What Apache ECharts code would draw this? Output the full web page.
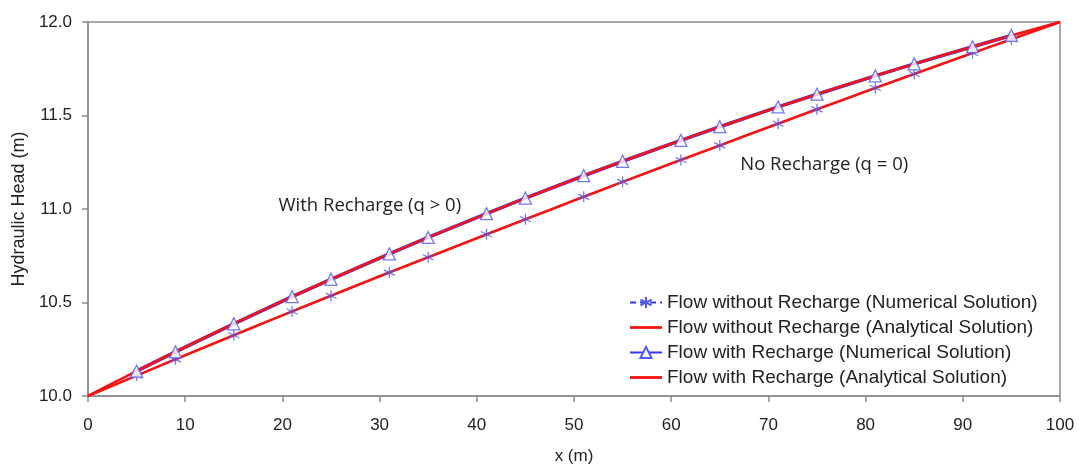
<!DOCTYPE html>
<html>
<head>
<meta charset="utf-8">
<script src="https://cdn.jsdelivr.net/npm/echarts@6/dist/echarts.min.js"></script>
<style>
  html, body { margin: 0; padding: 0; background: #fff; }
  #chart { width: 1079px; height: 464px; }
</style>
</head>
<body>
<div id="chart"></div>
<script>
// Distance along the aquifer (m) where the numerical nodes are reported
const numX = [5, 9, 15, 21, 25, 31, 35, 41, 45, 51, 55, 61, 65, 71, 75, 81, 85, 91, 95];
// Numerical heads (m), no recharge
const numNoRecharge = [10.109, 10.196, 10.325, 10.452, 10.536, 10.660, 10.742, 10.865, 10.945, 11.065,
                       11.145, 11.262, 11.340, 11.456, 11.533, 11.647, 11.722, 11.834, 11.908];
// Numerical heads (m), with recharge
const numRecharge = [10.133, 10.236, 10.386, 10.531, 10.624, 10.760, 10.848, 10.975, 11.058, 11.178,
                     11.255, 11.367, 11.440, 11.546, 11.614, 11.712, 11.776, 11.868, 11.928];

// Analytical solution sampled every 5 m
const anaX = [0, 5, 10, 15, 20, 25, 30, 35, 40, 45, 50, 55, 60, 65, 70, 75, 80, 85, 90, 95, 100];
const anaNoRecharge = [10.000, 10.109, 10.218, 10.325, 10.431, 10.536, 10.640, 10.742, 10.844, 10.945, 11.045,
                       11.145, 11.243, 11.340, 11.437, 11.533, 11.628, 11.722, 11.815, 11.908, 12.000];
const anaRecharge = [10.000, 10.133, 10.262, 10.386, 10.507, 10.624, 10.738, 10.848, 10.954, 11.058, 11.158,
                     11.255, 11.349, 11.440, 11.528, 11.614, 11.696, 11.776, 11.853, 11.928, 12.000];

const seriesNames = [
  'Flow without Recharge (Numerical Solution)',
  'Flow without Recharge (Analytical Solution)',
  'Flow with Recharge (Numerical Solution)',
  'Flow with Recharge (Analytical Solution)'
];

// Curve annotations, placed in data coordinates
const notes = [
  { text: 'With Recharge (q > 0)', x: 19.6, y: 11.02 },
  { text: 'No Recharge (q = 0)', x: 67.1, y: 11.235 }
];

const zip = (xs, ys) => xs.map((x, i) => [x, ys[i]]);

const RED = '#f51414';
const BLUE = '#3535ee';
const MARK = '#5058e8';
const AXIS = '#8c8c8c';
const FONT = 'Liberation Sans';

// Asterisk glyph used for the no-recharge numerical nodes
const starPath = 'path://M0,-10L0,10M-8.66,-5L8.66,5M-8.66,5L8.66,-5';
// Plain line swatch for the analytical entries in the legend
const lineIcon = 'path://M0,0M32,14M0,5.6L32,5.6L32,8.4L0,8.4Z';

const chart = echarts.init(document.getElementById('chart'), null, { renderer: 'canvas' });

chart.setOption({
  animation: false,
  backgroundColor: '#fff',
  grid: {
    left: 88, right: 19, top: 22, bottom: 68, outerBoundsMode: 'none', containLabel: false,
    show: true, borderColor: AXIS, borderWidth: 1.5, backgroundColor: 'transparent'
  },
  xAxis: {
    type: 'value', min: 0, max: 100, interval: 10,
    name: 'x (m)', nameLocation: 'middle', nameGap: 52,
    nameTextStyle: { fontFamily: FONT, fontSize: 17, color: '#222' },
    axisLine: { show: true, lineStyle: { color: AXIS, width: 1.5 } },
    axisTick: { show: true, length: 6, lineStyle: { color: AXIS, width: 1.5 } },
    axisLabel: { fontFamily: FONT, fontSize: 17, color: '#222', margin: 21 },
    splitLine: { show: false }
  },
  yAxis: {
    type: 'value', min: 10, max: 12, interval: 0.5,
    name: 'Hydraulic Head (m)', nameLocation: 'middle', nameGap: 56, nameRotate: 90,
    nameTextStyle: { fontFamily: FONT, fontSize: 18, color: '#222' },
    axisLine: { show: true, lineStyle: { color: AXIS, width: 1.5 } },
    axisTick: { show: true, length: 6, lineStyle: { color: AXIS, width: 1.5 } },
    axisLabel: { fontFamily: FONT, fontSize: 17, color: '#222', margin: 16, formatter: v => v.toFixed(1) },
    splitLine: { show: false }
  },
  legend: {
    orient: 'vertical', left: 624, top: 288,
    itemWidth: 32, itemHeight: 14, itemGap: 6,
    textStyle: { fontFamily: FONT, fontSize: 19, color: '#222' },
    data: [
      { name: seriesNames[0] },
      { name: seriesNames[1], icon: lineIcon },
      { name: seriesNames[2] },
      { name: seriesNames[3], icon: lineIcon }
    ]
  },
  series: [
    // numerical polylines sit beneath the analytical curves
    {
      name: seriesNames[0], type: 'line', data: zip(numX, numNoRecharge),
      symbol: starPath, symbolSize: 11, showSymbol: false, z: 1,
      lineStyle: { color: BLUE, width: 1.6, type: [6, 4] },
      itemStyle: { color: 'transparent', borderColor: MARK, borderWidth: 1.3 }
    },
    {
      name: seriesNames[2], type: 'line', data: zip(numX, numRecharge),
      symbol: 'triangle', symbolSize: 11, showSymbol: false, z: 1,
      lineStyle: { color: BLUE, width: 3.6 },
      itemStyle: { color: '#fff', borderColor: MARK, borderWidth: 1.3 }
    },
    {
      name: seriesNames[1], type: 'line', data: zip(anaX, anaNoRecharge),
      smooth: true, showSymbol: false, symbol: 'none', z: 2,
      lineStyle: { color: RED, width: 2.6 }, itemStyle: { color: RED }
    },
    {
      name: seriesNames[3], type: 'line', data: zip(anaX, anaRecharge),
      smooth: true, showSymbol: false, symbol: 'none', z: 2,
      lineStyle: { color: RED, width: 2.6 }, itemStyle: { color: RED }
    },
    // node markers drawn on top
    {
      name: seriesNames[0], type: 'scatter', data: zip(numX, numNoRecharge),
      symbol: starPath, symbolSize: 11, z: 3,
      itemStyle: { color: 'transparent', borderColor: MARK, borderWidth: 1.3 }
    },
    {
      name: seriesNames[2], type: 'scatter', data: zip(numX, numRecharge),
      symbol: 'triangle', symbolSize: 12, z: 3,
      itemStyle: { color: '#fff', borderColor: MARK, borderWidth: 1.3 }
    }
  ]
});

// Place the curve annotations at their data positions
chart.setOption({
  graphic: notes.map(n => {
    const p = chart.convertToPixel({ gridIndex: 0 }, [n.x, n.y]);
    return {
      type: 'text', x: p[0], y: p[1],
      style: { text: n.text, fontFamily: 'Open Sans', fontSize: 18.5, fill: '#222', textVerticalAlign: 'middle' }
    };
  })
});
</script>
</body>
</html>
